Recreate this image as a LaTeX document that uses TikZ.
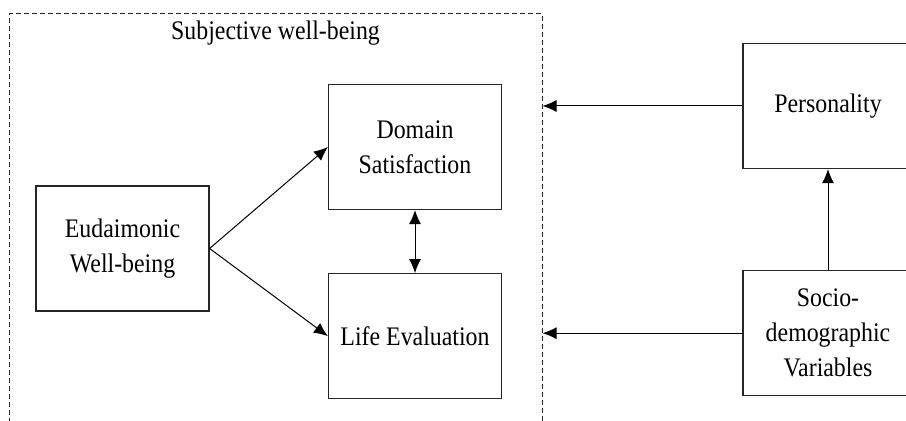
\documentclass[tikz,border=0pt]{standalone}
\usepackage{fontspec}
\setmainfont[FakeStretch=0.89]{Liberation Serif}
\usepackage{tikz}
\usetikzlibrary{arrows.meta,positioning}
\tikzstyle{factor} = [rectangle, minimum width=86.5pt, minimum height=62.5pt, align=center, draw=black!85, line width=0.6pt, font=\fontsize{13.4pt}{17.5pt}\selectfont]
\tikzstyle{group} = [rectangle, draw=black!85, line width=0.5pt, dash pattern=on 2.5pt off 1.5pt, minimum width=266.5pt, minimum height=213pt]
\tikzstyle{arrow} = [line width=0.5pt, -{Latex[length=7pt,width=6pt]}]

\begin{document}
\begin{tikzpicture}[x=0.5pt, y=-0.5pt, node distance=31.5pt]
\useasboundingbox (0,0) rectangle (906,421);
\clip (0,0) rectangle (906,421);
% Subjective well-being frame
\node[group] (swb) at (275.5,227) {};
\node[font=\fontsize{13.4pt}{17.5pt}\selectfont] (swbt) at (275.5,33) {Subjective well-being};

% Factors
\node[factor] (eud) at (122.5,248.5) {Eudaimonic\\Well-being};
\node[factor] (dom) at (415,147) {Domain\\Satisfaction};
\node[factor, below=of dom] (life) {Life Evaluation};
\node[factor, minimum width=85pt] (pers) at (828,106) {Personality};
\node[factor, minimum width=85pt, below=50.5pt of pers] (socio) {Socio-\\demographic\\Variables};

\draw[arrow] (eud.east) -- (dom.west);
\draw[arrow] (eud.east) -- (life.west);
\draw[arrow, {Latex[length=7pt,width=6pt]}-{Latex[length=7pt,width=6pt]}] (dom.south) -- (life.north);
\draw[arrow] (socio.north) -- (pers.south);
\draw[arrow] (pers.west) -- (pers.west -| swb.east);
\draw[arrow] (socio.west) -- (socio.west -| swb.east);
\end{tikzpicture}
\end{document}
